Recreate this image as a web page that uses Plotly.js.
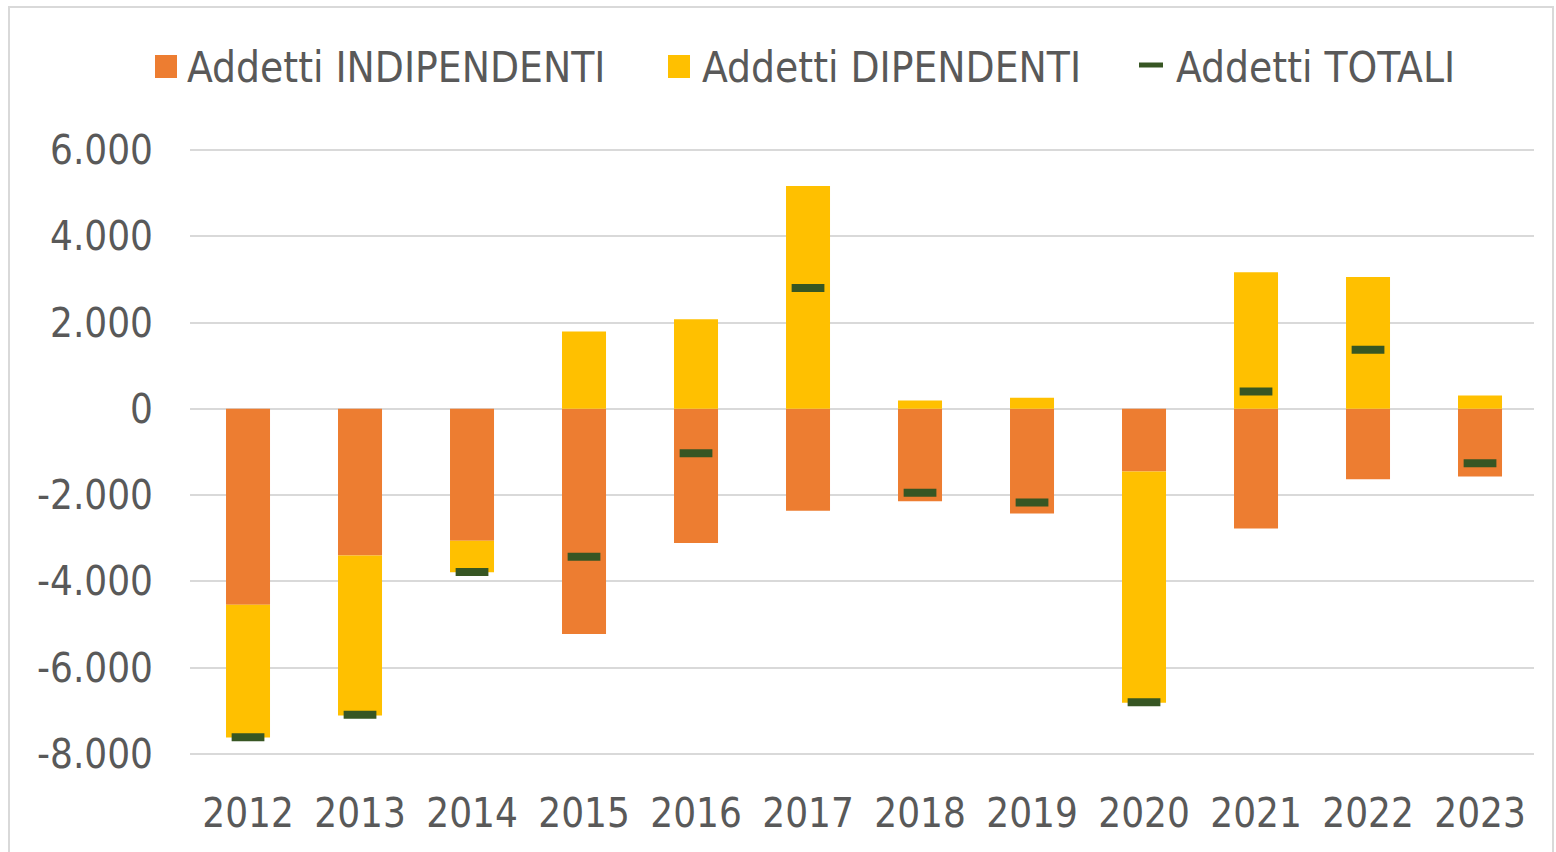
<!DOCTYPE html>
<html>
<head>
<meta charset="utf-8">
<script src="https://cdn.plot.ly/plotly-3.0.1.min.js"></script>
<style>
  html, body { margin: 0; padding: 0; background: #ffffff; }
  #chart { width: 1556px; height: 852px; }
</style>
</head>
<body>
<div id="chart"></div>
<script>
// ---- Data ----
var years = ['2012','2013','2014','2015','2016','2017','2018','2019','2020','2021','2022','2023'];
var indipendenti = [-4540, -3400, -3058, -5221, -3112, -2363, -2139, -2425, -1452, -2773, -1629, -1568];
var dipendenti   = [-3080, -3710,  -730,  1791,  2078,  5167,   193,   255, -5360,  3167,  3058,   308];
var totali       = [-7610, -7090, -3780, -3430, -1030,  2800, -1946, -2170, -6800,   400,  1370, -1259];
var seriesNames = ['Addetti INDIPENDENTI', 'Addetti DIPENDENTI', 'Addetti TOTALI'];
var yTickVals = [-8000, -6000, -4000, -2000, 0, 2000, 4000, 6000];
var yTickText = ['-8.000', '-6.000', '-4.000', '-2.000', '0', '2.000', '4.000', '6.000'];

// ---- Style ----
var COL_IND = '#ED7D31', COL_DIP = '#FFC000', COL_TOT = '#375623';
var TXT = '#595959', GRID = '#D9D9D9';
var FONT = '"DejaVu Sans Condensed", "DejaVu Sans", sans-serif';

var W = 1556, H = 852;
var M = {l: 190, r: 22, t: 148, b: 96};
var PW = W - M.l - M.r, PH = H - M.t - M.b;
function px(x) { return (x - M.l) / PW; }
function py(y) { return (H - M.b - y) / PH; }

var traces = [
  {type: 'bar', x: years, y: indipendenti, name: seriesNames[0], marker: {color: COL_IND}},
  {type: 'bar', x: years, y: dipendenti, name: seriesNames[1], marker: {color: COL_DIP}},
  {type: 'scatter', mode: 'markers', x: years, y: totali, name: seriesNames[2],
   marker: {symbol: 'line-ew', size: 23.4, color: COL_TOT, line: {color: COL_TOT, width: 8}}}
];

var shapes = [
  // outer chart frame
  {type: 'rect', xref: 'paper', yref: 'paper', x0: px(9), x1: px(1553), y0: py(880), y1: py(7),
   line: {color: GRID, width: 2}, fillcolor: 'rgba(0,0,0,0)', layer: 'below'},
  // legend keys
  {type: 'rect', xref: 'paper', yref: 'paper', x0: px(155), x1: px(177), y0: py(78), y1: py(55),
   line: {width: 0}, fillcolor: COL_IND},
  {type: 'rect', xref: 'paper', yref: 'paper', x0: px(668), x1: px(690), y0: py(78), y1: py(55),
   line: {width: 0}, fillcolor: COL_DIP},
  {type: 'line', xref: 'paper', yref: 'paper', x0: px(1139), x1: px(1163), y0: py(65), y1: py(65),
   line: {color: COL_TOT, width: 5}}
];

var legendX = [185, 700, 1174];
var annotations = seriesNames.map(function (n, i) {
  return {xref: 'paper', yref: 'paper', x: px(legendX[i]), y: py(67), xanchor: 'left', yanchor: 'middle',
          text: n, showarrow: false, font: {family: FONT, size: 42, color: TXT}};
});

var layout = {
  width: W, height: H,
  margin: M,
  paper_bgcolor: '#ffffff', plot_bgcolor: '#ffffff',
  barmode: 'relative',
  bargap: 0.607,
  showlegend: false,
  font: {family: FONT, size: 40, color: TXT},
  xaxis: {
    type: 'category', range: [-0.518, 11.482], showgrid: false, zeroline: false, showline: false, ticks: '',
    tickfont: {family: FONT, size: 40, color: TXT}, ticklabelstandoff: 30
  },
  yaxis: {
    range: [-8046, 6046], tickvals: yTickVals, ticktext: yTickText,
    showgrid: true, gridcolor: GRID, gridwidth: 2,
    zeroline: true, zerolinecolor: GRID, zerolinewidth: 2,
    showline: false, ticks: '',
    tickfont: {family: FONT, size: 40, color: TXT}, ticklabelstandoff: 36
  },
  shapes: shapes,
  annotations: annotations
};

Plotly.newPlot('chart', traces, layout, {displayModeBar: false, staticPlot: true});
</script>
</body>
</html>
